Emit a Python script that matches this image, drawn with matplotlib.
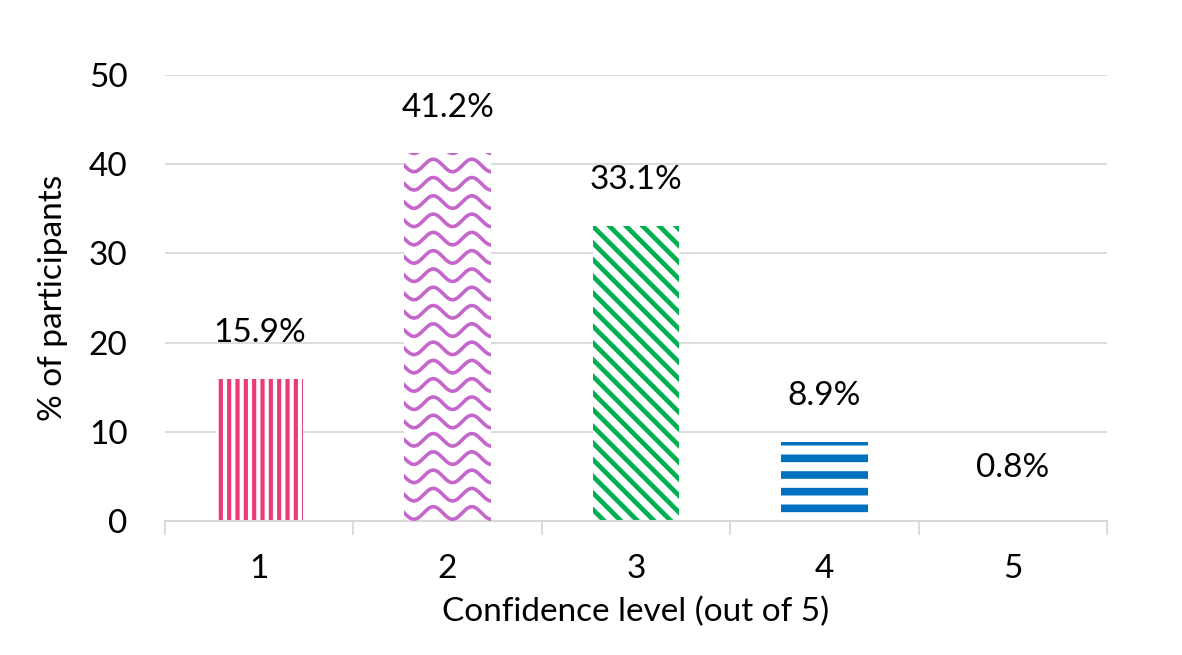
import numpy as np
import matplotlib
matplotlib.use("Agg")
from matplotlib import pyplot as plt

plt.rcParams['font.family'] = ['Lato', 'DejaVu Sans']

levels = ["1", "2", "3", "4", "5"]
percent = [15.9, 41.2, 33.1, 8.9, 0.8]
colors = ["#EC3A72", "#C466CC", "#00B050", "#0070C0", "#0070C0"]
hatches = ["||", None, "\\\\", "-", "-"]
hatch_widths = [3.0, 3.0, 3.4, 5.5, 5.5]

fig = plt.figure(figsize=(11.82, 6.55), dpi=100)
ax = fig.add_axes([0.1396, 0.2046, 0.797, 0.681])

x = np.arange(len(levels))
width = 0.46
for i in range(len(levels)):
    plt.rcParams['hatch.linewidth'] = hatch_widths[i]
    b = ax.bar(x[i], percent[i], width, facecolor="white", edgecolor=colors[i],
               hatch=hatches[i], linewidth=0, zorder=2)
    if hatches[i] is None:
        # wavy pattern, clipped to the bar
        rect = b.patches[0]
        xs = np.linspace(x[i] - width / 2, x[i] + width / 2, 200)
        for y0 in np.arange(0.9, percent[i] + 1, 2.05):
            ys = y0 + 0.7 * np.sin((xs - x[i] + width / 2) / 0.205 * 2 * np.pi + np.pi)
            ln, = ax.plot(xs, ys, color=colors[i], lw=2.6, zorder=3)
            ln.set_clip_path(rect)

for i, v in enumerate(percent):
    ax.annotate(f"{v}%", (x[i], v), xytext=(0, 33), textcoords="offset points",
                ha="center", va="center", fontsize=24)

ax.set_xlim(-0.5, len(levels) - 0.5)
ax.set_ylim(0, 50)
ax.set_yticks(range(0, 51, 10))
ax.set_xticks(x)
ax.set_xticklabels(levels)
ax.set_xticks(np.arange(-0.5, len(levels), 1), minor=True)
ax.tick_params(axis="x", which="major", length=0, pad=24, labelsize=24)
ax.tick_params(axis="x", which="minor", length=10, width=1.3, color="#D9D9D9")
ax.tick_params(axis="y", length=0, pad=27, labelsize=24)
ax.grid(axis="y", color="#D9D9D9", linewidth=1.3, zorder=0)
ax.set_axisbelow(True)
for s in ["top", "right", "left"]:
    ax.spines[s].set_visible(False)
ax.spines["bottom"].set_color("#D9D9D9")
ax.spines["bottom"].set_linewidth(1.5)

ax.set_xlabel("Confidence level (out of 5)", fontsize=24, labelpad=9)
ax.set_ylabel("% of participants", fontsize=24, labelpad=15)

fig.savefig("out.png", dpi=100)
